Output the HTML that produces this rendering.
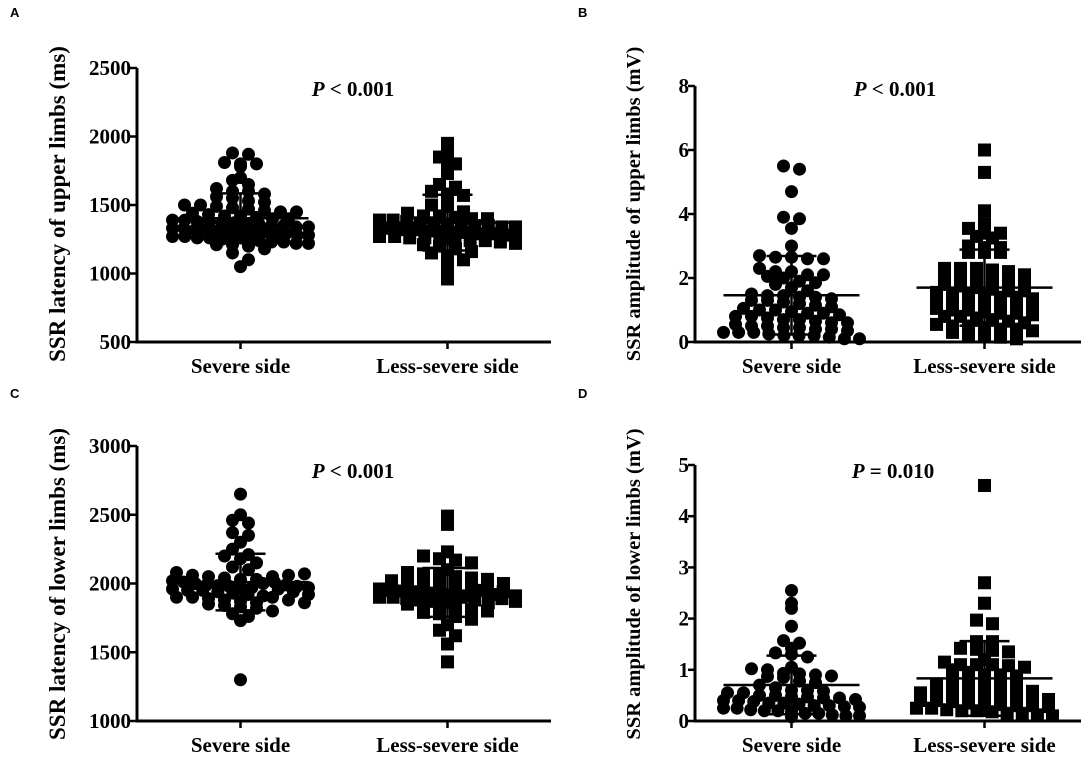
<!DOCTYPE html>
<html><head><meta charset="utf-8"><style>
html,body{margin:0;padding:0;background:#fff;}
svg{display:block;font-family:"Liberation Serif",serif;}
.tk{font-size:21px;font-weight:bold;text-anchor:end;}
.xl{font-size:21px;font-weight:bold;text-anchor:middle;}
.yt{font-weight:bold;text-anchor:middle;}
.pv{font-size:21px;font-weight:bold;text-anchor:middle;}
.pl{font-family:"Liberation Sans",sans-serif;font-size:13px;font-weight:bold;}
</style></head><body>
<svg id="fig" width="1084" height="762" viewBox="0 0 1084 762"></svg>
<script>
const categories = ["Severe side","Less-severe side"];
const aSevere = [1880,1870,1810,1800,1800,1780,1700,1680,1650,1620,1600,1600,1580,1560,1550,1530,1520,1500,1500,1490,1480,1470,1460,1450,1450,1440,1430,1420,1420,1410,1400,1400,1390,1390,1380,1380,1370,1370,1360,1360,1350,1350,1340,1340,1330,1330,1320,1320,1310,1310,1300,1300,1300,1290,1290,1280,1280,1270,1270,1260,1260,1250,1250,1240,1240,1230,1230,1220,1220,1210,1210,1200,1180,1150,1100,1050];
const aLess = [1950,1870,1850,1800,1790,1730,1650,1630,1600,1580,1570,1560,1500,1490,1450,1440,1420,1420,1410,1400,1400,1390,1390,1380,1370,1370,1360,1360,1350,1350,1340,1340,1330,1330,1320,1320,1310,1310,1300,1300,1290,1290,1280,1280,1270,1270,1260,1260,1250,1250,1240,1240,1230,1220,1210,1200,1180,1160,1150,1120,1100,1050,1000,960];
const bSevere = [5.5,5.4,4.7,3.9,3.85,3.55,3.0,2.7,2.65,2.65,2.6,2.6,2.3,2.2,2.2,2.1,2.1,2.05,2.0,1.9,1.85,1.8,1.7,1.6,1.5,1.45,1.45,1.4,1.4,1.35,1.3,1.3,1.25,1.2,1.15,1.1,1.05,1.0,1.0,0.95,0.9,0.9,0.85,0.8,0.8,0.75,0.7,0.7,0.65,0.6,0.6,0.55,0.5,0.5,0.45,0.45,0.4,0.4,0.35,0.3,0.3,0.3,0.25,0.2,0.2,0.2,0.15,0.1,0.1];
const bLess = [6.0,5.3,4.1,3.7,3.55,3.4,3.4,3.3,3.25,3.0,2.95,2.95,2.8,2.8,2.8,2.3,2.3,2.3,2.25,2.2,2.1,2.05,2.0,2.0,1.95,1.9,1.85,1.8,1.75,1.7,1.65,1.6,1.6,1.55,1.5,1.5,1.45,1.4,1.4,1.35,1.3,1.3,1.25,1.2,1.2,1.15,1.1,1.05,1.0,1.0,0.95,0.9,0.9,0.85,0.8,0.8,0.75,0.7,0.65,0.6,0.55,0.5,0.5,0.45,0.4,0.4,0.35,0.3,0.25,0.2,0.15,0.1];
const cSevere = [2650,2500,2460,2440,2370,2350,2300,2250,2210,2200,2180,2150,2120,2100,2080,2060,2050,2040,2030,2020,2010,2000,1990,1985,1980,1975,1970,1960,1950,1950,1940,1930,1920,1910,1900,1900,1890,1880,1870,1860,1850,1840,1830,1820,1800,1780,1760,1730,1300,2000,2010,1990,1980,1970,2030,2050,1960,1940,1920,1900,1880,1860,2060,2070];
const cLess = [2490,2430,2230,2200,2180,2170,2150,2100,2080,2070,2060,2050,2040,2030,2020,2000,1990,1980,1975,1970,1960,1950,1945,1940,1930,1920,1915,1910,1900,1900,1890,1880,1870,1860,1850,1840,1830,1820,1810,1800,1790,1780,1760,1740,1700,1660,1620,1560,1430,1950,1920,1900,1880,1860,1980,2000,1940,1910,1890,1870];
const dSevere = [2.55,2.3,2.2,1.85,1.57,1.52,1.42,1.33,1.3,1.25,1.05,1.02,1.0,0.93,0.92,0.9,0.88,0.87,0.85,0.78,0.75,0.7,0.65,0.6,0.6,0.58,0.55,0.55,0.5,0.5,0.48,0.47,0.45,0.45,0.42,0.4,0.4,0.38,0.35,0.35,0.33,0.3,0.3,0.28,0.27,0.25,0.25,0.22,0.2,0.2,0.18,0.15,0.15,0.12,0.1,0.1,0.08];
const dLess = [4.6,2.7,2.3,1.97,1.9,1.55,1.55,1.42,1.4,1.38,1.35,1.2,1.15,1.1,1.1,1.1,1.08,1.05,1.0,0.95,0.9,0.9,0.88,0.85,0.82,0.8,0.78,0.75,0.72,0.7,0.68,0.65,0.62,0.6,0.58,0.55,0.55,0.52,0.5,0.5,0.48,0.45,0.45,0.42,0.4,0.4,0.38,0.35,0.35,0.32,0.3,0.3,0.28,0.25,0.25,0.22,0.2,0.2,0.18,0.15,0.15,0.12,0.1];
const aTicks = [500,1000,1500,2000,2500];
const bTicks = [0,2,4,6,8];
const cTicks = [1000,1500,2000,2500,3000];
const dTicks = [0,1,2,3,4,5];
const pLabels = ["< 0.001","< 0.001","< 0.001","= 0.010"];
const yTitles = ["SSR latency of upper limbs (ms)","SSR amplitude of upper limbs (mV)","SSR latency of lower limbs (ms)","SSR amplitude of lower limbs (mV)"];

const NS="http://www.w3.org/2000/svg";
const svg=document.getElementById('fig');
function mk(tag,attrs,parent){const e=document.createElementNS(NS,tag);for(const k in attrs)e.setAttribute(k,attrs[k]);(parent||svg).appendChild(e);return e;}

const panels=[
 {letter:"A",lx:10,ly:17,x0:137,x1:551,yTop:68,yBot:342,ticks:aTicks,data:[aSevere,aLess],title:yTitles[0],tx:58,ty:204,fs:23,p:pLabels[0],px:353,py:96},
 {letter:"B",lx:578,ly:17,x0:695,x1:1081,yTop:86,yBot:342,ticks:bTicks,data:[bSevere,bLess],title:yTitles[1],tx:633,ty:204,fs:20.5,p:pLabels[1],px:895,py:96},
 {letter:"C",lx:10,ly:398,x0:137,x1:551,yTop:446,yBot:721,ticks:cTicks,data:[cSevere,cLess],title:yTitles[2],tx:58,ty:584,fs:23,p:pLabels[2],px:353,py:478},
 {letter:"D",lx:578,ly:398,x0:695,x1:1081,yTop:465,yBot:721,ticks:dTicks,data:[dSevere,dLess],title:yTitles[3],tx:633,ty:584,fs:20.5,p:pLabels[3],px:893,py:478}
];

function swarm(ys,h,step,maxHalf){
  const bins={};
  ys.forEach((y,i)=>{const b=Math.round(y/h);(bins[b]=bins[b]||[]).push(i);});
  const res=new Array(ys.length);
  Object.keys(bins).forEach(b=>{
    const idx=bins[b];const n=idx.length;
    const s=n>1?Math.min(step,2*maxHalf/(n-1)):0;
    idx.forEach((i,k)=>{res[i]=(k-(n-1)/2)*s;});
  });
  return res;
}

panels.forEach((P,pi)=>{
  const g=mk('g',{});
  
  
  const lab=mk('text',{x:P.lx,y:P.ly,class:'pl'},g);lab.textContent=P.letter;
  
  
  const tmin=P.ticks[0],tmax=P.ticks[P.ticks.length-1];
  const yS=v=>P.yBot-(v-tmin)/(tmax-tmin)*(P.yBot-P.yTop);
  const w=P.x1-P.x0;
  const xS=i=>P.x0+w*(0.25+0.5*i);
  const ya=mk('line',{x1:P.x0,y1:P.yTop,x2:P.x0,y2:P.yBot+1.5,stroke:'#000','stroke-width':3},g);
  
  const xa=mk('line',{x1:P.x0-1.5,y1:P.yBot,x2:P.x1,y2:P.yBot,stroke:'#000','stroke-width':3},g);
  
  P.ticks.forEach(t=>{
    mk('line',{x1:P.x0-7,y1:yS(t),x2:P.x0,y2:yS(t),stroke:'#000','stroke-width':2.5},g);
    const tl=mk('text',{x:P.x0-6,y:yS(t)+7,class:'tk'},g);tl.textContent=t;
    
  });
  categories.forEach((c,i)=>{
    mk('line',{x1:xS(i),y1:P.yBot,x2:xS(i),y2:P.yBot+7,stroke:'#000','stroke-width':2.5},g);
    const cl=mk('text',{x:xS(i),y:P.yBot+31,class:'xl'},g);cl.textContent=c;
    
  });
  const yt=mk('text',{x:P.tx,y:P.ty,class:'yt','font-size':P.fs,transform:`rotate(-90 ${P.tx} ${P.ty})`,dy:7},g);
  yt.textContent=P.title;
  
  const pt=mk('text',{x:P.px,y:P.py,class:'pv'},g);
  const pi_=document.createElementNS(NS,'tspan');pi_.setAttribute('font-style','italic');pi_.textContent='P';pt.appendChild(pi_);
  pt.appendChild(document.createTextNode(' '+P.p));
  
  P.data.forEach((arr,i)=>{
    const r=6.5;
    const ys=arr.map(v=>yS(v));
    const xs=swarm(ys,8,16,68);
    arr.forEach((v,k)=>{
      let m;
      if(i===0){m=mk('circle',{cx:xS(i)+xs[k],cy:ys[k],r:r,fill:'#000'},g);}
      else{m=mk('rect',{x:xS(i)+xs[k]-r,y:ys[k]-r,width:2*r,height:2*r,fill:'#000'},g);}
      
    });
    const mean=arr.reduce((a,b)=>a+b,0)/arr.length;
    const sd=Math.sqrt(arr.reduce((a,b)=>a+(b-mean)*(b-mean),0)/(arr.length-1));
    const ml=mk('line',{x1:xS(i)-68,x2:xS(i)+68,y1:yS(mean),y2:yS(mean),stroke:'#000','stroke-width':2.5},g);
    
    const eb=mk('path',{d:`M${xS(i)},${yS(mean+sd)}V${yS(mean-sd)}M${xS(i)-25},${yS(mean+sd)}H${xS(i)+25}M${xS(i)-25},${yS(mean-sd)}H${xS(i)+25}`,stroke:'#000','stroke-width':2.5,fill:'none'},g);
    
  });
});
</script>
</body></html>
